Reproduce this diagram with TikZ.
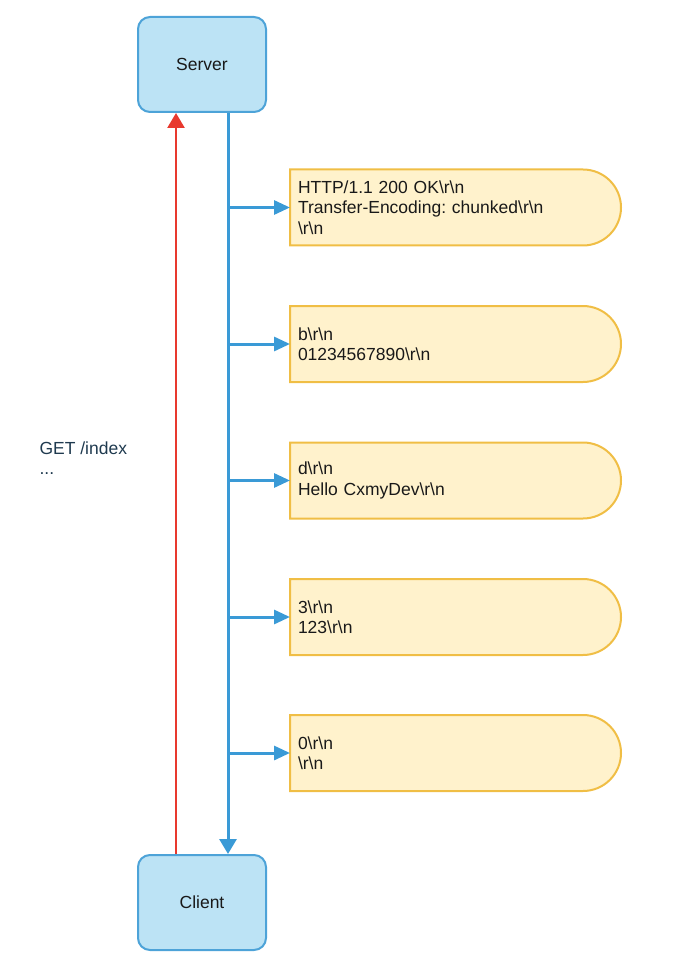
\documentclass[tikz,border=0pt]{standalone}
\usepackage{fontspec}
\setmainfont{Liberation Sans}
\usetikzlibrary{shapes,arrows.meta,positioning,backgrounds}
\definecolor{peerfill}{HTML}{BCE3F5}
\definecolor{peerline}{HTML}{4DA3D8}
\definecolor{respline}{HTML}{3A9AD6}
\definecolor{reqline}{HTML}{E8392E}
\definecolor{chunkfill}{HTML}{FFF2CC}
\definecolor{chunkline}{HTML}{F0BE45}
\definecolor{notetext}{HTML}{1F3A4F}
\tikzset{
  peer/.style={
      draw=peerline,
      fill=peerfill,
      line width=2pt,
      rectangle,
      rounded corners=12pt,
      minimum width=128pt,
      minimum height=95pt,
      text centered,
  },
  chunk/.style={
      rectangle,
      minimum height=76pt,
      minimum width=331pt,
      text width=315pt,
      inner xsep=8pt,
      outer sep=0pt,
      align=left,
      anchor=west
  },
  chunkbox/.style={draw=chunkline, fill=chunkfill, line width=2pt},
  req/.style={draw=reqline, line width=2.5pt, -{Triangle[length=15pt,width=17pt]}},
  resp/.style={draw=respline, line width=3pt, -{Triangle[length=15pt,width=17pt]}},
  branch/.style={draw=respline, line width=3pt, -{Triangle[length=16pt,width=14pt]}}
}

\begin{document}
\frenchspacing
\begin{tikzpicture}[x=1pt,y=-1pt,font=\fontsize{17.5}{20.5}\selectfont,text=black!90]
    \useasboundingbox (0,0) rectangle (680,957);
    \node[peer] (server) at (202,64.5) {Server};
    \node[peer] (client) at (202,902.5) {Client};
    \coordinate (trunk) at ([xshift=26pt]server.south);

    \node[chunk] (head) at (290,207.5) {HTTP/1.1 200 OK\textbackslash r\textbackslash n\\
        Transfer-Encoding: chunked\textbackslash r\textbackslash n\\ \textbackslash r\textbackslash n};
    \node[chunk] (chunkb) at (290,344) {b\textbackslash r\textbackslash n\\
        01234567890\textbackslash r\textbackslash n};
    \node[chunk] (chunkd) at (290,480.5) {d\textbackslash r\textbackslash n\\
        Hello CxmyDev\textbackslash r\textbackslash n};
    \node[chunk] (chunkc) at (290,617) {3\textbackslash r\textbackslash n\\
        123\textbackslash r\textbackslash n};
    \node[chunk] (last) at (290,753) {0\textbackslash r\textbackslash n\\
        \textbackslash r\textbackslash n};

    % the chunk outlines: flat left side, round right end
    \begin{pgfonlayer}{background}
    \draw[chunkbox] (head.north west) -- ([xshift=-38pt]head.north east) arc[start angle=90,end angle=-90,radius=38pt] -- (head.south west) -- cycle;
    \draw[chunkbox] (chunkb.north west) -- ([xshift=-38pt]chunkb.north east) arc[start angle=90,end angle=-90,radius=38pt] -- (chunkb.south west) -- cycle;
    \draw[chunkbox] (chunkd.north west) -- ([xshift=-38pt]chunkd.north east) arc[start angle=90,end angle=-90,radius=38pt] -- (chunkd.south west) -- cycle;
    \draw[chunkbox] (chunkc.north west) -- ([xshift=-38pt]chunkc.north east) arc[start angle=90,end angle=-90,radius=38pt] -- (chunkc.south west) -- cycle;
    \draw[chunkbox] (last.north west) -- ([xshift=-38pt]last.north east) arc[start angle=90,end angle=-90,radius=38pt] -- (last.south west) -- cycle;
    \end{pgfonlayer}

    \node[align=left,anchor=west,text=notetext] (get) at (36,458) {GET /index\\ ...};

    % request goes up, response comes down
    \draw[req] ([xshift=-26pt]client.north) -- ([xshift=-26pt]server.south);
    \draw[resp] (trunk) -- ([xshift=26pt]client.north);
    \draw[branch] (head.west -| trunk) -- (head.west);
    \draw[branch] (chunkb.west -| trunk) -- (chunkb.west);
    \draw[branch] (chunkd.west -| trunk) -- (chunkd.west);
    \draw[branch] (chunkc.west -| trunk) -- (chunkc.west);
    \draw[branch] (last.west -| trunk) -- (last.west);
  \end{tikzpicture}
\end{document}
